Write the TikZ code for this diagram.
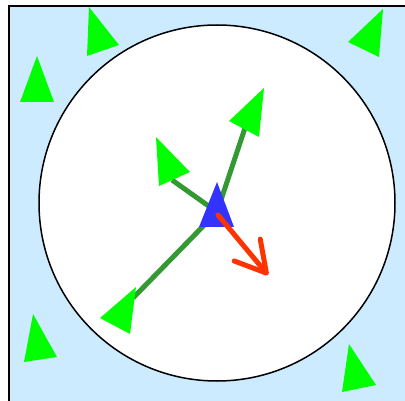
\documentclass[tikz,border=0pt]{standalone}
\usepackage{tikz}
\usetikzlibrary{arrows.meta}
\usepackage{xcolor}
\definecolor{skyfill}{HTML}{CCEBFF}
\definecolor{agentgreen}{HTML}{00FF00}
\definecolor{linkgreen}{HTML}{339933}
\definecolor{selfblue}{HTML}{3333FF}
\definecolor{headred}{HTML}{FF3300}

\begin{document}
\begin{tikzpicture}[x=1pt,y=-1pt,line cap=round,
  agent/.style={fill=agentgreen},
  link/.style={draw=linkgreen,line width=5pt,line cap=butt},
  heading/.style={draw=headred,line width=5pt,-{Straight Barb[length=30pt,width=34pt,round]}}]
\useasboundingbox (0,0) rectangle (405,401);
\begin{scope}
\clip (0,0) rectangle (405,401);
\draw[fill=skyfill,line width=2pt] (9,6) rectangle (430,430);
\end{scope}
\draw[fill=white,line width=1.5pt] (217,203) circle (178);
% neighbours inside the radius
\coordinate (self) at (217,212);
\coordinate (nb1) at (245,128);
\coordinate (nb2) at (172,180);
\coordinate (nb3) at (133,298);
\draw[link] (self) -- (nb1);
\draw[link] (self) -- (nb2);
\draw[link] (self) -- (nb3);
\fill[agent] (264,88) -- (229,121) -- (259,137) -- cycle;
\fill[agent] (156,137) -- (190,172) -- (159,186) -- cycle;
\fill[agent] (100,318) -- (136,287) -- (130,334) -- cycle;
% agents outside
\fill[agent] (89,7) -- (119,45) -- (87,56) -- cycle;
\fill[agent] (37,56) -- (54,102) -- (20,102) -- cycle;
\fill[agent] (383,9) -- (379,57) -- (348,42) -- cycle;
\fill[agent] (33,314) -- (57,357) -- (24,362) -- cycle;
\fill[agent] (349,344) -- (376,385) -- (342,392) -- cycle;
% the agent itself and its heading
\fill[selfblue] (217,182) -- (234,227) -- (199,227) -- cycle;
\coordinate (tip) at (268,275);
\draw[heading] (218,215) -- (tip);
\end{tikzpicture}
\end{document}
